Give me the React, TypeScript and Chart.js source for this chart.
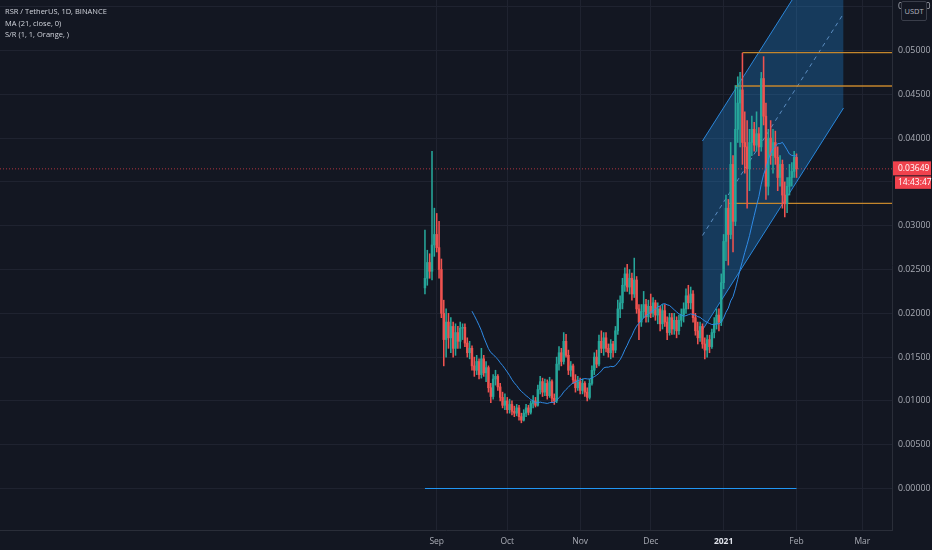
import { useEffect, useRef } from 'react';
import { Chart, registerables } from 'chart.js';

Chart.register(...registerables);

// ---------- data (prices in units of 0.0001 USDT, days counted from 2020-09-01) ----------
const PRICE_UNIT = 1e-4;
const FIRST_DAY = -5; // 2020-08-27, daily candles follow consecutively

const opens = [
  229, 240, 258, 248, 278, 290, 275, 250, 200, 170, 190, 172, 185, 160, 178, 168, 183, 184, 166, 155,
  160, 140, 135, 145, 130, 148, 132, 138, 115, 105, 125, 128, 116, 104, 95, 100, 90, 96, 88, 86,
  92, 82, 78, 86, 92, 87, 97, 100, 95, 113, 122, 110, 120, 106, 122, 103, 100, 142, 155, 145,
  168, 152, 135, 140, 124, 115, 122, 112, 120, 110, 104, 120, 135, 150, 142, 168, 160, 172, 160, 155,
  165, 158, 180, 205, 212, 232, 245, 230, 240, 222, 238, 205, 190, 202, 210, 196, 208, 200, 212, 198,
  205, 188, 203, 190, 178, 195, 182, 192, 180, 192, 198, 205, 220, 212, 222, 195, 180, 172, 185, 165,
  158, 170, 162, 178, 188, 198, 190, 235, 282, 320, 290, 370, 305, 410, 440, 455, 395, 390, 365, 395,
  410, 392, 405, 390, 468, 425, 345, 400, 380, 395, 378, 355, 370, 335, 325, 345, 355, 362, 378,
];
const highs = [
  295, 272, 268, 385, 320, 314, 305, 262, 215, 205, 200, 195, 190, 188, 185, 190, 188, 188, 172, 168,
  163, 150, 152, 148, 160, 152, 145, 140, 120, 130, 135, 130, 120, 110, 108, 104, 102, 100, 94, 96,
  95, 86, 90, 96, 95, 100, 106, 104, 118, 128, 126, 125, 124, 127, 124, 108, 150, 162, 160, 178,
  176, 158, 145, 142, 130, 128, 126, 125, 122, 115, 125, 140, 155, 158, 175, 180, 178, 178, 165, 170,
  168, 185, 215, 220, 240, 252, 256, 250, 246, 263, 242, 210, 210, 225, 216, 215, 222, 218, 215, 212,
  208, 210, 210, 196, 200, 200, 200, 196, 198, 205, 212, 228, 232, 230, 226, 200, 190, 190, 188, 172,
  175, 175, 182, 195, 205, 205, 245, 290, 335, 330, 395, 380, 460, 470, 475, 497, 430, 420, 410, 425,
  418, 430, 412, 475, 493, 440, 410, 420, 410, 408, 390, 380, 375, 350, 355, 370, 372, 385, 382,
];
const lows = [
  222, 232, 240, 238, 265, 270, 240, 195, 140, 150, 160, 155, 150, 152, 160, 160, 170, 162, 150, 148,
  135, 128, 130, 125, 126, 128, 122, 110, 98, 102, 118, 112, 100, 92, 90, 86, 86, 84, 82, 83,
  78, 75, 77, 82, 84, 85, 92, 93, 94, 108, 105, 106, 102, 104, 98, 96, 98, 135, 140, 142,
  150, 130, 128, 120, 110, 112, 108, 108, 105, 100, 102, 118, 130, 138, 140, 155, 152, 156, 150, 148,
  150, 155, 176, 195, 205, 225, 225, 222, 215, 218, 200, 170, 185, 195, 190, 190, 195, 196, 192, 188,
  180, 182, 185, 170, 175, 176, 176, 172, 176, 185, 190, 200, 205, 205, 190, 175, 165, 168, 160, 148,
  150, 155, 160, 172, 182, 180, 186, 228, 260, 255, 285, 270, 300, 395, 390, 370, 360, 320, 340, 380,
  385, 385, 380, 385, 415, 330, 335, 370, 360, 370, 340, 345, 320, 310, 315, 335, 345, 355, 355,
];
const closes = [
  240, 258, 248, 278, 290, 275, 250, 200, 170, 190, 172, 185, 160, 178, 168, 183, 184, 166, 155, 160,
  140, 135, 145, 130, 148, 132, 138, 115, 105, 125, 128, 116, 104, 95, 100, 90, 96, 88, 86, 92,
  82, 78, 86, 92, 87, 97, 100, 95, 113, 122, 110, 120, 106, 122, 103, 100, 142, 155, 145, 168,
  152, 135, 140, 124, 115, 122, 112, 120, 110, 104, 120, 135, 150, 142, 168, 160, 172, 160, 155, 165,
  158, 180, 205, 212, 232, 245, 230, 240, 222, 238, 205, 190, 202, 210, 196, 208, 200, 212, 198, 205,
  188, 203, 190, 178, 195, 182, 192, 180, 192, 198, 205, 220, 212, 222, 195, 180, 172, 185, 165, 158,
  170, 162, 178, 188, 198, 190, 235, 282, 320, 290, 370, 305, 410, 440, 455, 395, 390, 365, 395, 410,
  392, 405, 390, 468, 425, 345, 400, 380, 395, 378, 355, 370, 335, 325, 345, 355, 362, 378, 364.9,
];
const MA_PERIOD = 21;

// axis ticks
const monthTickDays = [0, 30, 61, 91, 122, 153, 181];
const monthTickLabels = ['Sep', 'Oct', 'Nov', 'Dec', '2021', 'Feb', 'Mar'];
const priceTicks = [0, 0.005, 0.01, 0.015, 0.02, 0.025, 0.03, 0.035, 0.04, 0.045, 0.05, 0.055];

// regression channel drawing
const channelDays = [113, 173];
const channelUpper = [0.03967, 0.06501];
const channelMiddle = [0.02888, 0.05422];
const channelLower = [0.01809, 0.04344];

// support / resistance levels
const srLevels = [0.04975, 0.04595, 0.03256];
const srStartDays = [130, 127, 124];

// horizontal line at zero
const zeroLineDays = [-5, 153];
const zeroLineValue = 0;

const lastPrice = 0.03649;
const countdownText = '14:43:47';
const currencyText = 'USDT';
const legendLines = ['RSR / TetherUS, 1D, BINANCE', 'MA (21, close, 0)', 'S/R (1, 1, Orange, )'];

// ---------- view ----------
const X_MIN = -185.7;
const X_MAX = 193.6;
const Y_MIN = -0.004737;
const Y_MAX = 0.055765;
const FONT = '"Open Sans", "Noto Sans", sans-serif';
const BG = '#131722';
const UP = '#26a69a';
const DOWN = '#ef5350';

const priceLabelPlugin = {
  id: 'priceLabel',
  afterDraw(chart: any) {
    const { ctx, chartArea } = chart;
    const y = chart.scales.y.getPixelForValue(lastPrice);
    const x0 = chartArea.right + 1;
    ctx.save();
    ctx.fillStyle = '#f0424d';
    ctx.fillRect(x0, y - 7.5, 38, 14);
    ctx.fillRect(x0 + 2, y + 7.5, 36, 12.5);
    ctx.fillStyle = '#ffffff';
    ctx.font = `8.5px ${FONT}`;
    ctx.textBaseline = 'middle';
    ctx.textAlign = 'left';
    ctx.fillText(lastPrice.toFixed(5), x0 + 5, y);
    ctx.fillText(countdownText, x0 + 5, y + 14);
    ctx.restore();
  },
};

export default function App() {
  const canvasRef = useRef<HTMLCanvasElement | null>(null);

  useEffect(() => {
    if (!canvasRef.current) return;
    const toP = (v: number) => v * PRICE_UNIT;
    const days = closes.map((_, i) => FIRST_DAY + i);
    const colors = closes.map((c, i) => (c >= opens[i] ? UP : DOWN));

    const wickData = days.map((d, i) => ({ x: d, y: [toP(lows[i]), toP(highs[i])] }));
    const bodyData = days.map((d, i) => ({ x: d, y: [toP(opens[i]), toP(closes[i])] }));
    const maData: { x: number; y: number }[] = [];
    for (let i = MA_PERIOD - 1; i < closes.length; i++) {
      let s = 0;
      for (let k = i - MA_PERIOD + 1; k <= i; k++) s += closes[k];
      maData.push({ x: days[i], y: toP(s / MA_PERIOD) });
    }

    const lineBase = { type: 'line' as const, pointRadius: 0, tension: 0, fill: false };

    const srDatasets = srLevels.map((lvl, i) => ({
      ...lineBase,
      data: [
        { x: srStartDays[i], y: lvl },
        { x: X_MAX, y: lvl },
      ],
      borderColor: '#c4862c',
      borderWidth: 1.3,
      order: 8,
    }));

    const chart = new Chart(canvasRef.current, {
      type: 'bar',
      data: {
        datasets: [
          {
            ...lineBase,
            data: channelDays.map((d, i) => ({ x: d, y: channelUpper[i] })),
            borderColor: 'rgba(45,145,235,0.9)',
            borderWidth: 1,
            fill: '+1',
            backgroundColor: 'rgba(33,150,243,0.28)',
            order: 20,
          },
          {
            ...lineBase,
            data: channelDays.map((d, i) => ({ x: d, y: channelLower[i] })),
            borderColor: 'rgba(45,145,235,0.9)',
            borderWidth: 1,
            order: 20,
          },
          {
            ...lineBase,
            data: channelDays.map((d, i) => ({ x: d, y: channelMiddle[i] })),
            borderColor: 'rgba(120,175,235,0.7)',
            borderWidth: 1,
            borderDash: [4, 4],
            order: 19,
          },
          {
            ...lineBase,
            data: zeroLineDays.map((d) => ({ x: d, y: zeroLineValue })),
            borderColor: '#2196f3',
            borderWidth: 1,
            order: 15,
          },
          {
            ...lineBase,
            data: [
              { x: X_MIN, y: lastPrice },
              { x: X_MAX, y: lastPrice },
            ],
            borderColor: 'rgba(240,66,77,0.7)',
            borderWidth: 1,
            borderDash: [1, 2],
            order: 12,
          },
          ...srDatasets,
          {
            type: 'bar' as const,
            data: wickData as any,
            backgroundColor: colors,
            barThickness: 0.9,
            grouped: false,
            borderWidth: 0,
            order: 6,
          },
          {
            type: 'bar' as const,
            data: bodyData as any,
            backgroundColor: colors,
            barThickness: 1.8,
            grouped: false,
            borderWidth: 0,
            order: 5,
          },
          {
            ...lineBase,
            data: maData,
            borderColor: '#2f8be6',
            borderWidth: 1,
            order: 2,
          },
        ] as any,
      },
      options: {
        responsive: true,
        maintainAspectRatio: false,
        animation: false,
        events: [],
        layout: { padding: 0 },
        plugins: {
          legend: { display: false },
          tooltip: { enabled: false },
          title: { display: false },
        },
        scales: {
          x: {
            type: 'linear',
            min: X_MIN,
            max: X_MAX,
            offset: false,
            afterBuildTicks: (s: any) => {
              s.ticks = monthTickDays.map((v) => ({ value: v }));
            },
            afterFit: (s: any) => {
              s.height = 20;
              s.paddingLeft = 0;
              s.paddingRight = 0;
            },
            ticks: {
              autoSkip: false,
              maxRotation: 0,
              minRotation: 0,
              padding: 6,
              callback: (_v: any, i: number) => monthTickLabels[i],
              color: (c: any) => (/^\d{4}$/.test(monthTickLabels[c.index] || '') ? '#e0e3eb' : '#a9acb5'),
              font: (c: any) => ({
                size: 8.5,
                family: FONT,
                weight: /^\d{4}$/.test(monthTickLabels[c.index] || '') ? 'bold' : 'normal',
              }),
            },
            grid: { color: '#1f2330', drawTicks: false, offset: false },
            border: { color: '#2a2e39' },
          },
          y: {
            position: 'right',
            min: Y_MIN,
            max: Y_MAX,
            afterBuildTicks: (s: any) => {
              s.ticks = priceTicks.map((v) => ({ value: v }));
            },
            afterFit: (s: any) => {
              s.width = 40;
              s.paddingTop = 0;
              s.paddingBottom = 0;
            },
            ticks: {
              autoSkip: false,
              padding: 6,
              color: '#a9acb5',
              font: { size: 8.8, family: FONT },
              callback: (v: any) => Number(v).toFixed(5),
            },
            grid: { color: '#1f2330', drawTicks: false },
            border: { color: '#2a2e39' },
          },
        },
      } as any,
      plugins: [priceLabelPlugin],
    });
    return () => chart.destroy();
  }, []);

  return (
    <div
      style={{
        position: 'fixed',
        left: 0,
        top: 0,
        width: 932,
        height: 550,
        background: BG,
        overflow: 'hidden',
      }}
    >
      <canvas ref={canvasRef} style={{ position: 'absolute', left: 0, top: 0 }} />
      <div
        style={{
          position: 'absolute',
          left: 5,
          top: 6,
          fontFamily: FONT,
          fontSize: 7.5,
          lineHeight: '11.5px',
          color: '#d1d4dc',
          whiteSpace: 'pre',
          zIndex: 2,
        }}
      >
        {legendLines.map((t) => (
          <div key={t}>{t}</div>
        ))}
      </div>
      <div
        style={{
          position: 'absolute',
          left: 901,
          top: 1,
          width: 24,
          height: 18,
          border: '1px solid #3a3e4a',
          borderRadius: 2,
          background: BG,
          color: '#b2b5be',
          fontFamily: FONT,
          fontSize: 7.5,
          lineHeight: '18px',
          textAlign: 'center',
          zIndex: 2,
        }}
      >
        {currencyText}
      </div>
    </div>
  );
}
